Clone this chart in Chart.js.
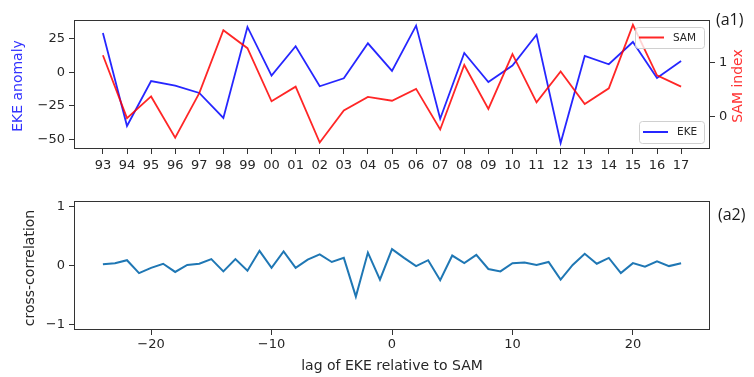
<!DOCTYPE html>
<html>
<head>
<meta charset="utf-8">
<script src="https://cdn.jsdelivr.net/npm/chart.js@4.4.1/dist/chart.umd.min.js"></script>
<style>
body{margin:0;background:#fff;width:754px;height:377px;position:relative;overflow:hidden}
canvas{position:absolute;left:0}
#top{top:0}
#bot{top:185px}
.tag{position:absolute;font-family:"Open Sans",sans-serif;font-size:16px;color:#1a1a1a;line-height:20px}
</style>
</head>
<body>
<canvas id="top" width="754" height="185"></canvas>
<canvas id="bot" width="754" height="192"></canvas>
<div class="tag" style="left:716px;top:9px">(a1)</div>
<div class="tag" style="left:718px;top:204px">(a2)</div>
<script>
// data
const years = ['93','94','95','96','97','98','99','00','01','02','03','04','05','06','07','08','09','10','11','12','13','14','15','16','17']
const eke = [29.3,-40,-6.5,-10,-15.4,-34,33.8,-2.5,19.4,-10.4,-4.5,21.6,1,34.8,-34.6,14.4,-7.2,5,28,-52.7,12.2,6,22.6,-4.2,8.4]
const sam = [1.13,-0.03,0.37,-0.39,0.43,1.59,1.26,0.28,0.55,-0.48,0.11,0.36,0.29,0.51,-0.24,0.95,0.14,1.15,0.26,0.83,0.23,0.52,1.69,0.76,0.55]
const ekeTicks = [-50,-25,0,25]
const samTicks = [0,1]

const lags = [-24,-23,-22,-21,-20,-19,-18,-17,-16,-15,-14,-13,-12,-11,-10,-9,-8,-7,-6,-5,-4,-3,-2,-1,0,
              1,2,3,4,5,6,7,8,9,10,11,12,13,14,15,16,17,18,19,20,21,22,23,24]
const corr = [0.02,0.04,0.09,-0.13,-0.04,0.03,-0.11,0.01,0.03,0.11,-0.10,0.11,-0.09,0.25,-0.04,0.24,-0.04,0.10,0.19,0.06,0.13,-0.53,0.22,-0.24,0.28,
              0.13,-0.01,0.09,-0.25,0.17,0.04,0.18,-0.06,-0.10,0.04,0.05,0.01,0.06,-0.24,0.01,0.20,0.03,0.13,-0.13,0.04,-0.02,0.07,-0.01,0.04]
const lagTicks = [-20,-10,0,10,20]
const corrTicks = [-1,0,1]

const FONT = '"DejaVu Sans", sans-serif'
const tickFont = {family: FONT, size: 13}
const ink = '#262626'

const minus = v => String(v).replace('-', '\u2212')

function fixTicks(list) {
    return s => { s.ticks = list.map(v => ({value: v})) }
}

function axis(extra) {
    return Object.assign({
        type: 'linear',
        grid: {drawOnChartArea: false, tickLength: 5, color: '#333'},
        border: {display: false},
        ticks: {font: tickFont, color: ink, padding: 4, autoSkip: false, maxRotation: 0,
                callback: v => minus(v)}
    }, extra)
}

function vtext(ctx, txt, x, y, color) {
    ctx.save()
    ctx.translate(x, y)
    ctx.rotate(-Math.PI / 2)
    ctx.fillStyle = color
    ctx.font = '14px ' + FONT
    ctx.textAlign = 'center'
    ctx.textBaseline = 'middle'
    ctx.fillText(txt, 0, 0)
    ctx.restore()
}

function frame(ctx, a) {
    ctx.save()
    ctx.strokeStyle = '#333'
    ctx.lineWidth = 1
    ctx.strokeRect(Math.round(a.left) + 0.5, Math.round(a.top) + 0.5,
                   Math.round(a.right - a.left) - 1, Math.round(a.bottom - a.top) - 1)
    ctx.restore()
}

function legendBox(ctx, x, y, w, h, color, label) {
    ctx.save()
    ctx.beginPath()
    ctx.roundRect(x + 0.5, y + 0.5, w, h, 3)
    ctx.fillStyle = 'rgba(255,255,255,0.8)'
    ctx.fill()
    ctx.strokeStyle = '#d0d0d0'
    ctx.lineWidth = 1
    ctx.stroke()
    ctx.beginPath()
    ctx.moveTo(x + 4, y + h / 2)
    ctx.lineTo(x + 29, y + h / 2)
    ctx.strokeStyle = color
    ctx.lineWidth = 2
    ctx.stroke()
    ctx.fillStyle = ink
    ctx.font = '10.5px ' + FONT
    ctx.textBaseline = 'middle'
    ctx.fillText(label, x + 38, y + h / 2 + 0.5)
    ctx.restore()
}

// top panel (a1)
const blue = 'rgba(0,0,255,0.85)'
const red = 'rgba(255,0,0,0.85)'

new Chart(document.getElementById('top'), {
    type: 'line',
    data: {
        datasets: [
            {label: 'SAM', data: sam.map((v, i) => ({x: i, y: v})), yAxisID: 'y2',
             borderColor: red, borderWidth: 1.8, pointRadius: 0, tension: 0},
            {label: 'EKE', data: eke.map((v, i) => ({x: i, y: v})), yAxisID: 'y',
             borderColor: blue, borderWidth: 1.8, pointRadius: 0, tension: 0}
        ]
    },
    options: {
        responsive: false,
        animation: false,
        layout: {padding: {top: 20, left: 0, right: 0, bottom: 0}},
        plugins: {legend: {display: false}, tooltip: {enabled: false}},
        scales: {
            x: axis({min: -1.2, max: 25.2, afterBuildTicks: fixTicks(years.map((_, i) => i)),
                     afterFit: s => { s.height = 36 },
                     ticks: {font: tickFont, color: ink, padding: 4, autoSkip: false, maxRotation: 0,
                             callback: v => years[v]}}),
            y: axis({position: 'left', min: -57.2, max: 39, afterBuildTicks: fixTicks(ekeTicks),
                     afterFit: s => { s.width = 74 }}),
            y2: axis({position: 'right', min: -0.6, max: 1.78, afterBuildTicks: fixTicks(samTicks),
                      afterFit: s => { s.width = 44 }})
        }
    },
    plugins: [{
        id: 'decor',
        afterDraw(chart) {
            const ctx = chart.ctx
            frame(ctx, chart.chartArea)
            legendBox(ctx, 635, 27, 69, 21, red, 'SAM')
            legendBox(ctx, 639, 121, 65, 22, blue, 'EKE')
            vtext(ctx, 'EKE anomaly', 18, 86, '#3333ff')
            vtext(ctx, 'SAM index', 738, 86, '#ff3333')
        }
    }]
})

// bottom panel (a2)
new Chart(document.getElementById('bot'), {
    type: 'line',
    data: {
        datasets: [
            {label: 'cross-correlation', data: corr.map((v, i) => ({x: lags[i], y: v})),
             borderColor: '#1f77b4', borderWidth: 2, pointRadius: 0, tension: 0}
        ]
    },
    options: {
        responsive: false,
        animation: false,
        layout: {padding: {top: 16, left: 0, right: 44, bottom: 0}},
        plugins: {legend: {display: false}, tooltip: {enabled: false}},
        scales: {
            x: axis({min: -26.4, max: 26.4, afterBuildTicks: fixTicks(lagTicks),
                     afterFit: s => { s.height = 47 },
                     ticks: {font: tickFont, color: ink, padding: 2, autoSkip: false, maxRotation: 0,
                             callback: v => minus(v)}}),
            y: axis({position: 'left', min: -1.1, max: 1.1, afterBuildTicks: fixTicks(corrTicks),
                     afterFit: s => { s.width = 74 }})
        }
    },
    plugins: [{
        id: 'decor',
        afterDraw(chart) {
            const ctx = chart.ctx
            frame(ctx, chart.chartArea)
            vtext(ctx, 'cross-correlation', 30, 83, ink)
            ctx.save()
            ctx.fillStyle = ink
            ctx.font = '14px ' + FONT
            ctx.textAlign = 'center'
            ctx.textBaseline = 'middle'
            ctx.fillText('lag of EKE relative to SAM', 392, 181)
            ctx.restore()
        }
    }]
})
</script>
</body>
</html>
